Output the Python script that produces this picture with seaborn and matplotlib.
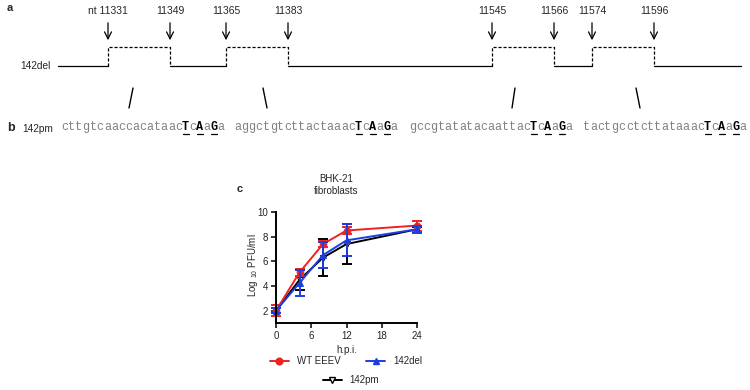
import numpy as np
import pandas as pd
import matplotlib
matplotlib.use('Agg')
import matplotlib.pyplot as plt
from matplotlib.lines import Line2D
import seaborn as sns

# Panel a: deletion sites (nt) and their labels
site_labels = ['nt 11331', '11349', '11365', '11383', '11545', '11566', '11574', '11596']
# Panel b: 142pm sequences (bold/underlined at positions 17, 19, 21)
sequences = ['cttgtcaaccacataacTcAaGa', 'aggctgtcttactaaacTcAaGa',
             'gccgtatatacaattacTcAaGa', 'tactgcctcttataaacTcAaGa']
mutated_idx = [17, 19, 21]

# Panel c: growth curves in BHK-21 fibroblasts
hpi = [0, 4, 8, 12, 24]
wt_mean = [2.0, 5.1, 7.4, 8.5, 8.9]
wt_sd = [0.45, 0.3, 0.25, 0.3, 0.4]
del_mean = [2.0, 4.25, 6.5, 7.7, 8.6]
del_sd = [0.2, 1.05, 1.05, 1.3, 0.3]
pm_mean = [2.0, 4.5, 6.3, 7.4, 8.6]
pm_sd = [0.2, 0.8, 1.5, 1.6, 0.2]

sns.set_style('white')
plt.rcParams['font.family'] = ['Liberation Sans', 'DejaVu Sans']
plt.rcParams['mathtext.default'] = 'regular'

fig = plt.figure(figsize=(7.5, 3.9), dpi=100)

# overlay axes in pixel coordinates for the schematic
ax0 = fig.add_axes([0, 0, 1, 1])
ax0.set_xlim(0, 750)
ax0.set_ylim(390, 0)
ax0.axis('off')

# schematic layout (pixel x for each site)
site_x = [108, 170, 226, 288, 492, 554, 592, 654]
base_y, top_y = 66, 47
line_kw = dict(color='black', lw=0.9)
solid_x = [58] + site_x + [741]
for i in range(0, len(solid_x), 2):
    ax0.plot([solid_x[i], solid_x[i + 1]], [base_y, base_y], **line_kw)
for i in range(0, len(site_x), 2):
    x1, x2 = site_x[i], site_x[i + 1]
    ax0.plot([x1, x1, x2, x2], [base_y, top_y, top_y, base_y], ls=(0, (2.5, 1.5)), **line_kw)
for x, lab in zip(site_x, site_labels):
    ax0.annotate('', xy=(x, 43), xytext=(x, 20),
                 arrowprops=dict(arrowstyle='->,head_length=0.5,head_width=0.25', color='black', lw=0.9))
    ax0.text(x, 11, lab, ha='center', va='center', fontsize=7.5)
ax0.text(7, 8, 'a', fontsize=8, fontweight='bold', va='center')
ax0.text(20, 66, '142del', fontsize=7.3, va='center')

# slanted connector lines
for (xt, xb) in [(133, 129), (263, 267), (515, 512), (636, 640)]:
    ax0.plot([xt, xb], [88, 108], color='black', lw=1.0)

# panel b sequences
ax0.text(7, 128, 'b', fontsize=9, fontweight='bold', va='center')
ax0.text(22, 129, '142pm', fontsize=7.3, va='center')
seq_x0 = [61, 234, 409, 583]
cw = 7.12
for x0, seq in zip(seq_x0, sequences):
    for i, ch in enumerate(seq):
        cx = x0 + i * cw + cw / 2
        if i in mutated_idx:
            ax0.text(cx, 127, ch, family='Liberation Mono', fontsize=8.5, fontweight='bold',
                     color='black', ha='center', va='center')
            ax0.plot([cx - 3.0, cx + 3.0], [133.5, 133.5], color='black', lw=0.9)
        else:
            ax0.text(cx, 127, ch, family='Liberation Mono', fontsize=8.5,
                     color='#808080', ha='center', va='center')

# panel c
ax = fig.add_axes([276 / 750, 1 - 323 / 390, (417 - 276) / 750, (323 - 212) / 390])
df = pd.DataFrame({
    'hpi': hpi * 3,
    'titer': pm_mean + wt_mean + del_mean,
    'virus': ['142pm'] * 5 + ['WT EEEV'] * 5 + ['142del'] * 5,
})
palette = {'142pm': 'black', 'WT EEEV': '#ee2222', '142del': '#1a3fe0'}
markers = {'142pm': 'v', 'WT EEEV': 'o', '142del': '^'}
sds = {'142pm': pm_sd, 'WT EEEV': wt_sd, '142del': del_sd}
for v in ['142pm', 'WT EEEV', '142del']:
    sub = df[df['virus'] == v]
    ax.errorbar(sub['hpi'], sub['titer'], yerr=sds[v], fmt='none', ecolor=palette[v],
                elinewidth=1.4, capsize=3.5, capthick=1.4, clip_on=False)
    sns.lineplot(data=sub, x='hpi', y='titer', color=palette[v], marker=markers[v],
                 markersize=4.8, lw=1.4, ax=ax, legend=False,
                 markerfacecolor='white' if v == '142pm' else palette[v],
                 markeredgecolor=palette[v], clip_on=False)

ax.set_xlim(0, 24)
ax.set_ylim(1, 10)
ax.set_xticks([0, 6, 12, 18, 24])
ax.set_yticks([2, 4, 6, 8, 10])
ax.tick_params(axis='both', labelsize=7, length=3.5, width=1.3, direction='out', pad=2,
               bottom=True, left=True)
for s in ['top', 'right']:
    ax.spines[s].set_visible(False)
for s in ['left', 'bottom']:
    ax.spines[s].set_linewidth(1.4)
    ax.spines[s].set_color('black')
ax.set_xlabel('h.p.i.', fontsize=7, labelpad=3)
ax.set_ylabel('')
fig.text(253 / 750, 1 - 265 / 390, 'Log $_{10}$ PFU/ml', rotation=90, fontsize=7,
         ha='center', va='center')
fig.text(336 / 750, 1 - 185 / 390, 'BHK-21\nfibroblasts', fontsize=7, ha='center',
         va='center', linespacing=1.35)
fig.text(237 / 750, 1 - 189 / 390, 'c', fontsize=8, fontweight='bold', va='center')

def handle(v):
    return Line2D([], [], color=palette[v], marker=markers[v], markersize=4.8, lw=1.4,
                  markerfacecolor='white' if v == '142pm' else palette[v],
                  markeredgecolor=palette[v])

leg_kw = dict(frameon=False, fontsize=7, handlelength=2.0, handletextpad=0.8, borderpad=0)
fig.legend([handle('WT EEEV'), handle('142del')], ['WT EEEV', '142del'], ncol=2,
           loc='center', bbox_to_anchor=(346 / 750, 1 - 361 / 390), columnspacing=2.6, **leg_kw)
fig.legend([handle('142pm')], ['142pm'], loc='center',
           bbox_to_anchor=(351 / 750, 1 - 380 / 390), **leg_kw)

fig.savefig('out.png', dpi=100)
